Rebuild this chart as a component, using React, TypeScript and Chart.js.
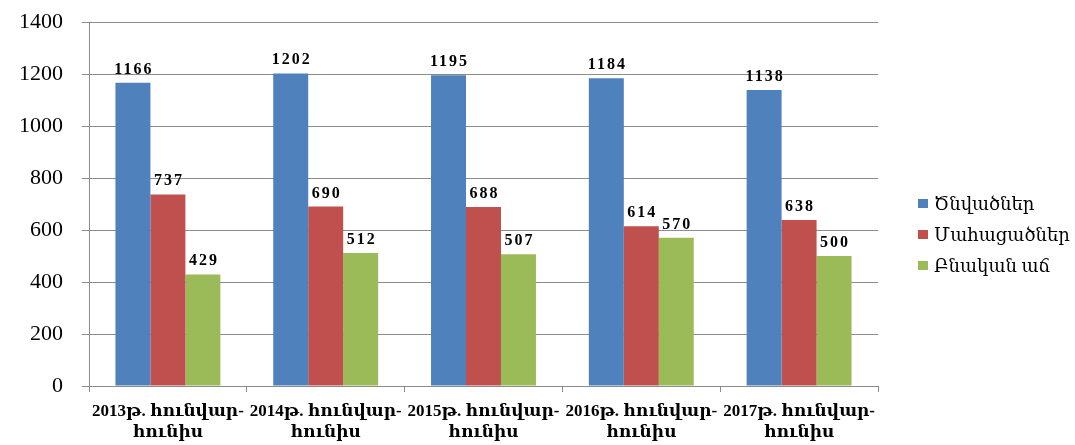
import React, { useEffect, useRef } from "react";
import { Chart, registerables } from "chart.js";

Chart.register(...registerables);

const categories: string[][] = [
  ["2013թ. հունվար-", "հունիս"],
  ["2014թ. հունվար-", "հունիս"],
  ["2015թ. հունվար-", "հունիս"],
  ["2016թ. հունվար-", "հունիս"],
  ["2017թ. հունվար-", "հունիս"],
];
const seriesNames = ["Ծնվածներ", "Մահացածներ", "Բնական աճ"];
const births = [1166, 1202, 1195, 1184, 1138];
const deaths = [737, 690, 688, 614, 638];
const naturalGrowth = [429, 512, 507, 570, 500];
const colors = ["#4F81BD", "#C0504D", "#9BBB59"];
const yTicks = [0, 200, 400, 600, 800, 1000, 1200, 1400];

const SERIF = '"Liberation Serif", "DejaVu Serif", "Times New Roman", serif';
const GRID = "#8c8c8c";

const dataLabelPlugin = {
  id: "dataLabels",
  afterDatasetsDraw(chart: any) {
    const ctx = chart.ctx;
    ctx.save();
    ctx.font = `bold 16px ${SERIF}`;
    ctx.fillStyle = "#000";
    ctx.textAlign = "center";
    ctx.textBaseline = "alphabetic";
    try { (ctx as any).letterSpacing = "2px"; } catch (e) {}
    chart.data.datasets.forEach((ds: any, di: number) => {
      const meta = chart.getDatasetMeta(di);
      meta.data.forEach((el: any, i: number) => {
        ctx.fillText(String(ds.data[i]), el.x + 1, el.y - 9);
      });
    });
    ctx.restore();
  },
};

const legendPlugin = {
  id: "customLegend",
  afterDraw(chart: any) {
    const ctx = chart.ctx;
    ctx.save();
    ctx.font = `18px ${SERIF}`;
    ctx.textBaseline = "middle";
    ctx.textAlign = "left";
    const x0 = chart.chartArea.right + 40;
    const yStart = 204;
    const step = 31;
    chart.data.datasets.forEach((ds: any, i: number) => {
      const y = yStart + i * step;
      ctx.fillStyle = ds.backgroundColor;
      ctx.fillRect(x0, y - 5, 10, 9);
      ctx.fillStyle = "#000";
      ctx.fillText(ds.label, x0 + 16, y + 1);
    });
    ctx.restore();
  },
};

export default function App() {
  const ref = useRef<HTMLCanvasElement | null>(null);

  useEffect(() => {
    if (!ref.current) return;
    const chart = new Chart(ref.current, {
      type: "bar",
      data: {
        labels: categories,
        datasets: [
          { label: seriesNames[0], data: births, backgroundColor: colors[0] },
          { label: seriesNames[1], data: deaths, backgroundColor: colors[1] },
          { label: seriesNames[2], data: naturalGrowth, backgroundColor: colors[2] },
        ],
      },
      options: {
        animation: false,
        responsive: true,
        maintainAspectRatio: false,
        layout: { padding: { top: 22, right: 197, left: 0, bottom: 0 } },
        datasets: { bar: { barPercentage: 1, categoryPercentage: 0.665 } },
        plugins: {
          legend: { display: false },
          tooltip: { enabled: false },
        },
        scales: {
          x: {
            grid: {
              display: true,
              drawOnChartArea: false,
              drawTicks: true,
              tickLength: 6,
              color: GRID,
              offset: true,
            },
            border: { display: true, color: GRID },
            ticks: {
              color: "#000",
              font: { family: SERIF, size: 17, weight: "bold", lineHeight: 1.25 },
              padding: 9,
              maxRotation: 0,
              minRotation: 0,
              autoSkip: false,
            },
            afterFit(scale: any) {
              scale.height = 59;
            },
          },
          y: {
            min: 0,
            max: 1400,
            afterBuildTicks(scale: any) {
              scale.ticks = yTicks.map((v) => ({ value: v }));
            },
            grid: { color: GRID, drawTicks: true, tickLength: 7 },
            border: { display: true, color: GRID },
            ticks: {
              color: "#000",
              font: { family: SERIF, size: 22 },
              padding: 19,
              callback: (v: any) => String(v),
            },
            afterFit(scale: any) {
              scale.width = 89;
              scale.paddingTop = 0;
              scale.paddingBottom = 0;
            },
          },
        },
      },
      plugins: [dataLabelPlugin, legendPlugin],
    });
    return () => chart.destroy();
  }, []);

  return (
    <div style={{ position: "absolute", left: 0, top: 0, width: 1075, height: 445, background: "#fff" }}>
      <canvas ref={ref} />
    </div>
  );
}
